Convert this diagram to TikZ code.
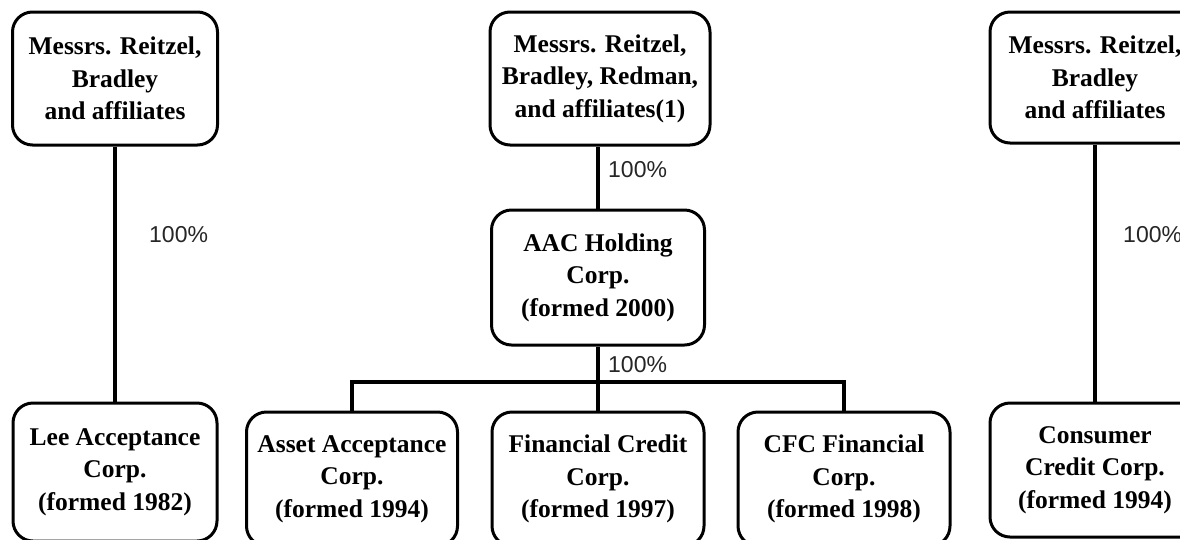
\documentclass[tikz,border=0pt]{standalone}
\usepackage{fontspec}
\setmainfont{Liberation Serif}
\newfontfamily\pctfont{Liberation Sans}
\begin{document}
\begin{tikzpicture}[x=1pt,y=-1pt,
  orgbox/.style={draw, line width=3pt, rounded corners=20pt, align=center,
    inner sep=0pt, font=\bfseries\fontsize{25.5}{32.5}\selectfont},
  conn/.style={line width=4pt},
  pct/.style={anchor=west, inner sep=0pt, text=black!85,
    font=\pctfont\fontsize{23}{26}\selectfont}]
\fill[white] (0,0) rectangle (1180,539);
\useasboundingbox (0,0) rectangle (1180,539);
% left column
\node[orgbox, minimum width=205pt, minimum height=133pt] (A1) at (115,78.5)
  {Messrs. Reitzel,\\Bradley\\and affiliates};
\node[orgbox, minimum width=204pt, minimum height=138pt] (A2) at (115,472)
  {Lee Acceptance\\Corp.\\(formed 1982)};
% middle column
\node[orgbox, minimum width=220pt, minimum height=133pt] (M1) at (600,78.5)
  {Messrs. Reitzel,\\Bradley, Redman,\\and affiliates(1)};
\node[orgbox, minimum width=213pt, minimum height=135pt] (M2) at (598,277.5)
  {AAC Holding\\Corp.\\(formed 2000)};
\node[orgbox, minimum width=211pt, minimum height=134pt] (B1) at (352,479)
  {Asset Acceptance\\Corp.\\(formed 1994)};
\node[orgbox, minimum width=212pt, minimum height=134pt] (B2) at (598,479)
  {Financial Credit\\Corp.\\(formed 1997)};
\node[orgbox, minimum width=212pt, minimum height=134pt] (B3) at (844,479)
  {CFC Financial\\Corp.\\(formed 1998)};
% right column
\node[orgbox, minimum width=210pt, minimum height=131pt] (R1) at (1095,77.5)
  {Messrs. Reitzel,\\Bradley\\and affiliates};
\node[orgbox, minimum width=210pt, minimum height=134pt] (R2) at (1095,470)
  {Consumer\\Credit Corp.\\(formed 1994)};
\coordinate (bar) at (598,382);
% connectors
\draw[conn] (A1.south) -- (A1.south |- A2.north);
\draw[conn] (M2.north) -- (M2.north |- M1.south);
\draw[conn] (M2.south) -- (bar);
\draw[conn] (bar) -- (B2.north);
\draw[conn] (B1.north) -- (B1.north |- bar) -- (B3.north |- bar) -- (B3.north);
\draw[conn] (R1.south) -- (R1.south |- R2.north);
% labels
\node[pct] (p1) at (149,235) {100\%};
\node[pct] (p2) at (608,170) {100\%};
\node[pct] (p3) at (608,365) {100\%};
\node[pct] (p4) at (1123,235) {100\%};
\end{tikzpicture}
\end{document}
